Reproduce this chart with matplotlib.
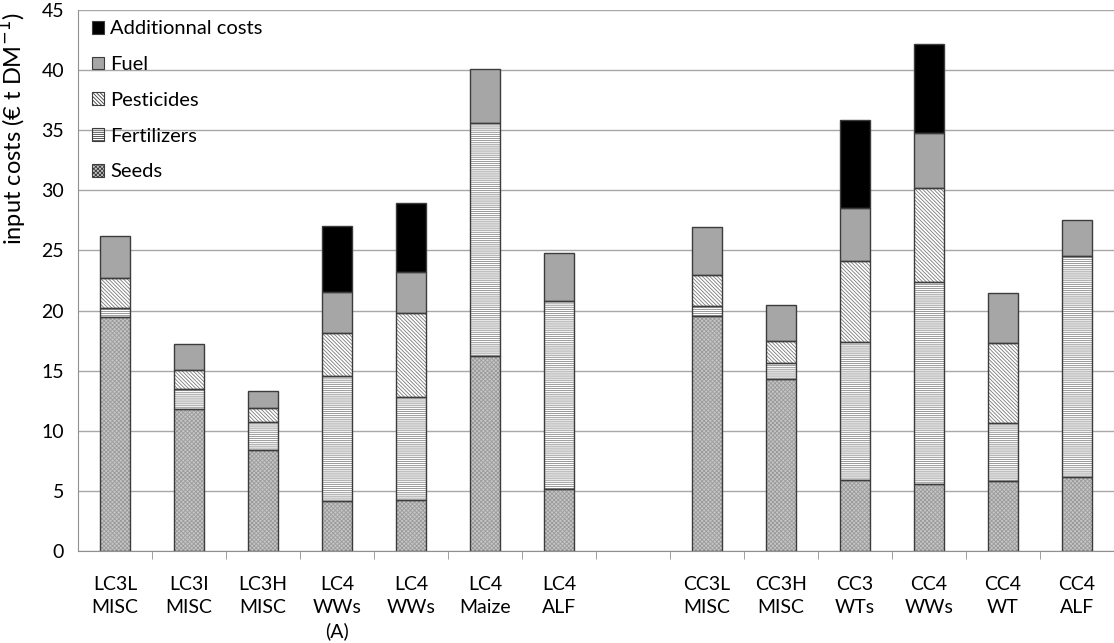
import numpy as np
import matplotlib.pyplot as plt
from matplotlib.patches import Patch

plt.rcParams['font.family'] = ['Lato', 'DejaVu Sans']
plt.rcParams['hatch.linewidth'] = 0.6

# category labels (empty slot separates the two groups)
labels = ["LC3L\nMISC", "LC3I\nMISC", "LC3H\nMISC", "LC4\nWWs\n(A)", "LC4\nWWs",
          "LC4\nMaize", "LC4\nALF", "",
          "CC3L\nMISC", "CC3H\nMISC", "CC3\nWTs", "CC4\nWWs", "CC4\nWT", "CC4\nALF"]

seeds = [19.45, 11.8, 8.4, 4.2, 4.25, 16.2, 5.2, 0,
         19.55, 14.3, 5.9, 5.55, 5.85, 6.15]
fertilizers = [0.8, 1.7, 2.35, 10.35, 8.55, 19.4, 15.6, 0,
               0.85, 1.3, 11.5, 16.8, 4.8, 18.35]
pesticides = [2.45, 1.6, 1.15, 3.55, 7.0, 0, 0, 0,
              2.55, 1.9, 6.75, 7.85, 6.65, 0]
fuel = [3.5, 2.1, 1.4, 3.45, 3.4, 4.5, 4.0, 0,
        4.0, 2.95, 4.4, 4.6, 4.2, 3.05]
additional = [0, 0, 0, 5.5, 5.75, 0, 0, 0,
              0, 0, 7.3, 7.4, 0, 0]

series = [
    ("Seeds", seeds, '#c6c6c6', 'xxxxxxxx', '#9a9a9a'),
    ("Fertilizers", fertilizers, 'white', '--------', '#8a8a8a'),
    ("Pesticides", pesticides, 'white', '\\' * 9, '#7a7a7a'),
    ("Fuel", fuel, '#a6a6a6', None, '#a6a6a6'),
    ("Additionnal costs", additional, 'black', None, 'black'),
]

fig = plt.figure(figsize=(11.14, 6.43), dpi=100)
ax = fig.add_axes([0.07, 0.143, 0.93, 0.8414])

x = np.arange(len(labels))
w = 0.4
bottom = np.zeros(len(labels))
handles = []
for name, vals, fc, hatch, hc in series:
    vals = np.array(vals, dtype=float)
    mask = vals > 0
    ax.bar(x[mask], vals[mask], w, bottom=bottom[mask], color=fc,
           hatch=hatch, edgecolor=hc, linewidth=0, zorder=2)
    ax.bar(x[mask], vals[mask], w, bottom=bottom[mask], fill=False,
           edgecolor='#3c3c3c', linewidth=1.0, zorder=3)
    bottom += vals
    handles.append(Patch(facecolor=fc, hatch=hatch, edgecolor='#3c3c3c',
                         linewidth=0.8, label=name))

ax.set_xlim(-0.5, len(labels) - 0.5)
ax.set_ylim(0, 45)
ax.set_yticks(np.arange(0, 46, 5))
ax.yaxis.grid(True, color='#a8a8a8', linewidth=1.0, zorder=0)
ax.set_axisbelow(True)

ax.set_xticks(x)
ax.set_xticklabels(labels, fontsize=14, linespacing=1.42, va='top')
ax.tick_params(axis='x', which='major', length=0, pad=18)
ax.set_xticks(np.arange(0.5, len(labels) - 1, 1), minor=True)
ax.tick_params(axis='x', which='minor', length=6, color='#909090', direction='out')
ax.tick_params(axis='y', length=0, labelsize=14, pad=10)

for s in ['top', 'right']:
    ax.spines[s].set_visible(False)
ax.spines['left'].set_color('#909090')
ax.spines['bottom'].set_color('#909090')

ax.set_ylabel("input costs (€ t DM$^{-1}$)", fontsize=17)
ax.yaxis.set_label_coords(-0.047, 0.78)

leg = ax.legend(handles=handles[::-1], loc='upper left', bbox_to_anchor=(0.0, 1.007),
                frameon=False, fontsize=14.5, labelspacing=0.93, handlelength=0.6,
                handleheight=0.6, handletextpad=0.3, borderaxespad=0.3)

fig.savefig("out.png", dpi=100)
